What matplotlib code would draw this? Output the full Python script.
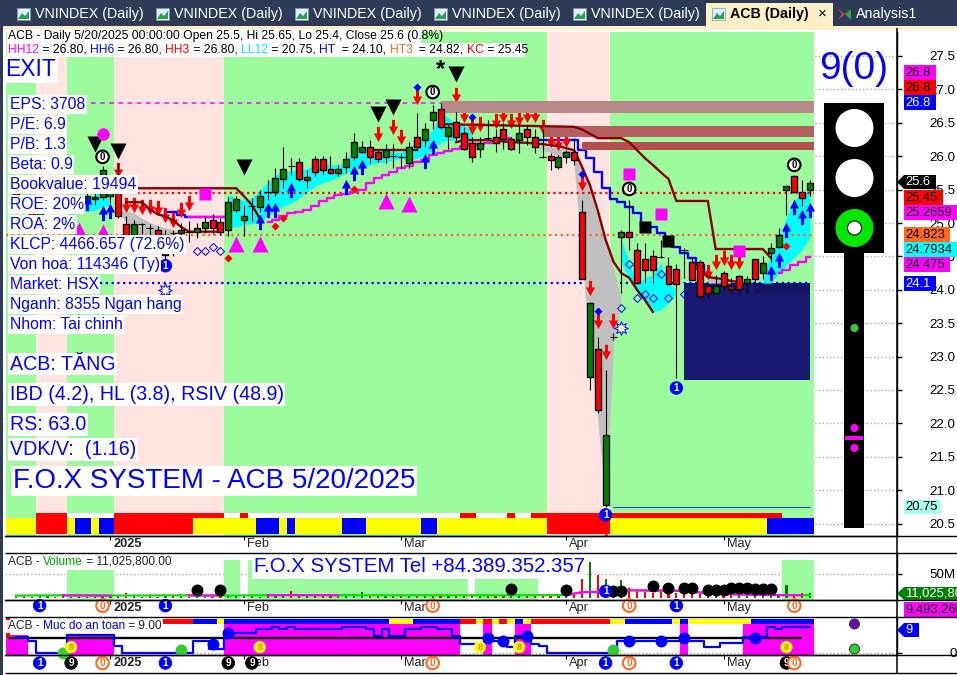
import numpy as np
import matplotlib
matplotlib.use("Agg")
import matplotlib.pyplot as plt
from matplotlib.patches import Rectangle, Circle, Polygon
from matplotlib.path import Path
from matplotlib.transforms import ScaledTranslation

plt.rcParams['font.family'] = ['Liberation Sans', 'DejaVu Sans']

# candles, bar 0 .. 101 (the first ones sit behind the labels, estimated)
open_ = [25.45, 25.35, 25.2, 25.1, 25.2, 25.35, 25.3, 25.25, 25.3, 25.3, 25.36, 25.39, 25.4, 25.6, 24.99, 24.81, 24.99, 24.93, 24.9, 24.52,
         24.85, 24.85, 24.86, 24.86, 24.93, 25.05, 25.01, 24.9, 25.2, 25.05, 25.25, 25.24, 25.46, 25.46, 25.66, 25.85, 25.91, 25.64, 25.96, 25.96,
         25.81, 25.75, 25.84, 25.99, 26.06, 26.14, 26.06, 25.99, 26.0, 25.99, 25.9, 26.29, 26.24, 26.54, 26.71, 26.3, 26.51, 26.35, 26.2, 26.11,
         26.27, 26.29, 26.41, 26.26, 26.24, 26.41, 26.29, 25.99, 26.0, 25.84, 25.99, 26.07, 25.16, 22.7, 23.12, 20.78, 23.3, 24.79, 24.87, 24.6,
         24.46, 24.5, 24.49, 24.36, 24.31, 24.6, 24.41, 24.41, 24.06, 23.95, 24.25, 24.06, 24.2, 24.1, 24.46, 24.25, 24.55, 24.64, 25.49, 25.7,
         25.46, 25.5]
close = [25.35, 25.2, 25.1, 25.2, 25.35, 25.3, 25.25, 25.3, 25.3, 25.4, 25.39, 25.8, 25.5, 25.1, 24.81, 24.99, 24.99, 24.93, 24.65, 24.82,
         24.85, 24.9, 24.86, 24.93, 25.01, 24.93, 24.86, 25.31, 25.36, 25.1, 25.25, 25.4, 25.46, 25.67, 25.81, 25.85, 25.66, 25.69, 25.76, 25.79,
         25.75, 25.81, 25.96, 26.21, 26.14, 25.99, 25.96, 26.1, 26.0, 25.99, 26.14, 26.14, 26.41, 26.66, 26.44, 26.44, 26.29, 26.11, 25.99, 26.2,
         26.27, 26.2, 26.26, 26.11, 26.35, 26.29, 26.14, 25.99, 25.94, 25.99, 26.06, 25.94, 24.16, 23.8, 22.2, 21.82, 23.3, 24.87, 24.79, 24.1,
         24.3, 24.3, 24.49, 24.09, 24.09, 24.6, 24.15, 23.9, 23.95, 24.06, 24.06, 24.01, 24.01, 24.16, 24.16, 24.4, 24.62, 24.82, 25.55, 25.46,
         25.38, 25.6]
high = [25.5, 25.4, 25.3, 25.3, 25.4, 25.4, 25.4, 25.35, 25.4, 25.5, 25.49, 25.85, 25.6, 25.88, 25.1, 25.05, 25.0, 24.98, 24.95, 24.9,
        24.9, 25.0, 25.03, 25.0, 25.1, 25.13, 25.08, 25.39, 25.4, 25.27, 25.37, 25.49, 25.64, 25.82, 26.14, 25.98, 25.98, 25.8, 26.0, 26.0,
        26.0, 25.87, 26.06, 26.35, 26.23, 26.24, 26.09, 26.19, 26.19, 26.05, 26.21, 26.65, 26.5, 26.76, 26.8, 26.47, 26.66, 26.44, 26.29, 26.29,
        26.54, 26.41, 26.5, 26.29, 26.45, 26.47, 26.41, 26.41, 26.05, 26.02, 26.09, 26.27, 25.34, 23.82, 23.3, 22.8, 23.35, 24.9, 25.34, 24.7,
        24.7, 24.6, 24.75, 24.49, 24.38, 24.63, 24.48, 24.45, 24.1, 24.22, 24.28, 24.18, 24.22, 24.2, 24.46, 24.5, 24.7, 24.92, 25.56, 25.72,
        25.65, 25.65]
low = [25.3, 25.15, 25.05, 25.05, 25.15, 25.25, 25.2, 25.2, 25.25, 25.25, 25.27, 25.35, 25.3, 25.08, 24.7, 24.75, 24.84, 24.78, 24.6, 24.45,
       24.5, 24.78, 24.71, 24.78, 24.85, 24.83, 24.82, 24.81, 25.17, 24.81, 25.03, 25.17, 25.34, 25.4, 25.52, 25.72, 25.63, 25.52, 25.7, 25.74,
       25.74, 25.71, 25.75, 25.95, 26.05, 25.9, 25.92, 25.9, 25.82, 25.82, 25.82, 26.1, 26.14, 26.4, 26.4, 26.11, 26.24, 26.1, 25.92, 25.99,
       26.25, 26.06, 26.11, 26.1, 26.05, 26.17, 26.05, 25.97, 25.79, 25.81, 25.9, 25.87, 24.16, 22.5, 22.15, 20.75, 23.25, 23.95, 24.6, 24.08,
       24.1, 24.1, 24.47, 24.08, 22.68, 24.18, 24.15, 23.88, 23.87, 23.95, 24.0, 23.95, 23.93, 23.95, 24.08, 24.16, 24.42, 24.63, 25.12, 25.45,
       25.25, 25.4]

volume = [3, 4, 3, 7, 4, 3, 4, 3, 4, 3, 3, 4,
          5, 4, 10, 4, 3, 4, 3, 4, 4, 5, 3, 3,
          4, 3, 4, 6, 4, 5, 4, 3, 4, 5, 9, 14,
          5, 4, 5, 5, 4, 6, 5, 8, 12, 5, 4, 5,
          4, 5, 6, 7, 5, 4, 5, 5, 4, 5, 6, 4,
          5, 4, 5, 6, 5, 4, 6, 5, 6, 7, 10, 9,
          42, 75, 47, 40, 14, 38, 20, 15, 12, 10, 12, 9,
          10, 8, 12, 8, 6, 4, 8, 6, 8, 7, 5, 8,
          9, 5, 27, 6, 11, 11.03]
vol_ma_idx = [0, 6, 12, 21, 27, 34, 45, 60, 70, 72, 75, 78, 84, 90, 96, 101]
vol_ma = [5, 5.5, 5, 5.5, 5, 6, 5.5, 5.5, 6, 12, 13, 16, 15, 8, 6, 6]

safety = [5.5, 5.5, 4.1, 0, 0, 0, 0, 6.2, 6.2, 6.2, 6.2, 6.2, 6.2, 2.4, 0, 0, 0, 0, 0, 0,
          0, 0, 0, 4.1, 4.1, 1.4, 1.4, 6.9, 6.9, 6.9, 6.9, 8.3, 8.3, 9, 8.3, 9, 8.3, 8.3, 8.3, 8.3,
          8.3, 8.3, 9, 9, 9, 8.3, 5.9, 8.3, 5.9, 5.9, 8.3, 8.3, 9, 9, 8.3, 8.3, 5.9, 3.1, 3.1, 3.1,
          5.2, 4.1, 4.1, 2.1, 5.9, 5.9, 3.1, 2.4, 0, 0, 0, 0, 0, 0, 0, 0, 0, 4.1, 4.1, 4.1,
          4.1, 4.1, 4.1, 4.1, 4.1, 4.1, 4.1, 4.1, 2.1, 2.1, 3.4, 3.4, 3.4, 5.5, 5.5, 5.5, 9, 8.1, 9, 9,
          9, 9]

# background bands, bar edges
band_edges = [-1.3, 2.5, 6.5, 12.5, 26.5, 67.5, 75.5, 101.5]
band_kinds = ['up', 'down', 'up', 'down', 'up', 'down', 'up']

strip_edges = [-1.3, 2.5, 6.5, 7.5, 9.5, 10.5, 12.5, 22.5, 30.5, 33.5, 34.5, 35.5, 41.5, 44.5, 51.5, 53.5, 67.5, 75.5, 95.5, 101.5]
strip_kinds = ['y', 'r', 'y', 'b', 'y', 'b', 'r', 'y', 'b', 'y', 'b', 'y', 'b', 'y', 'b', 'y', 'r', 'y', 'b']
strip_red_from = [2.5, 12.5, 28.5, 56.5, 62.5, 65.5]
strip_red_to = [6.5, 26.5, 29.5, 58.5, 63.5, 97.5]
strip_white_from = [6.5, 26.5, 29.5, 58.5, 63.5]
strip_white_to = [12.5, 28.5, 56.5, 62.5, 65.5]

# zones and fills, prices
zone_low = [26.65, 26.29, 26.09]
zone_high = [26.83, 26.45, 26.21]
zone_from = [54.0, 67.0, 72.0]
zone_colors = ['#B68888', '#B46060', '#B25050']

cyan_a_i = [7, 8, 9, 10, 11, 12]
cyan_a_top = [25.27, 25.34, 25.39, 25.42, 25.49, 25.57]
cyan_a_bot = [25.12, 25.15, 25.17, 25.19, 25.24, 25.27]
cyan_b_i = list(range(27, 59))
cyan_b_top = [25.42, 25.37, 25.34, 25.37, 25.49, 25.60, 25.72, 25.76, 25.79, 25.79, 25.81, 25.87, 25.91, 25.87, 25.87, 25.94,
              26.14, 26.14, 26.14, 26.11, 26.09, 26.06, 26.06, 26.14, 26.21, 26.29, 26.39, 26.65, 26.57, 26.47, 26.47, 26.35]
cyan_b_bot = [24.93, 24.94, 24.97, 24.99, 25.01, 25.10, 25.19, 25.25, 25.30, 25.37, 25.46, 25.55, 25.60, 25.64, 25.69, 25.75,
              25.79, 25.82, 25.87, 25.90, 25.91, 25.94, 25.97, 25.94, 25.97, 26.0, 26.09, 26.21, 26.24, 26.24, 26.20, 26.20]
cyan_c_i = [77, 78, 79, 80, 81, 82, 83, 84]
cyan_c_top = [24.75, 24.42, 24.07, 24.19, 24.22, 24.40, 24.10, 24.0]
cyan_c_bot = [24.42, 24.15, 23.95, 23.85, 23.67, 23.70, 23.80, 23.95]
cyan_d_i = [95, 96, 97, 98, 99, 100, 101]
cyan_d_top = [24.15, 24.55, 24.70, 25.09, 25.34, 25.45, 25.49]
cyan_d_bot = [24.10, 24.10, 24.25, 24.37, 24.48, 24.60, 24.78]

gray_a_i = [13, 14, 15, 16, 17, 18, 19, 20, 21]
gray_a_top = [25.19, 25.18, 25.15, 25.07, 25.01, 24.96, 24.93, 24.90, 24.85]
gray_a_bot = [25.16, 25.01, 24.85, 24.83, 24.83, 24.83, 24.83, 24.83, 24.85]
gray_b_i = [56, 57, 58, 59]
gray_b_top = [26.29, 26.27, 26.27, 26.26]
gray_b_bot = [26.24, 26.15, 26.12, 26.21]
gray_c_i = [66, 67, 68, 69, 70, 71]
gray_c_top = [26.17, 26.15, 26.14, 26.12, 26.11, 26.09]
gray_c_bot = [26.14, 26.09, 26.05, 26.0, 26.0, 25.94]
gray_d_i = [71, 72, 73, 74, 75, 76, 77]
gray_d_top = [26.09, 25.84, 25.57, 25.19, 24.75, 24.33, 23.85]
gray_d_bot = [25.87, 24.45, 23.10, 22.05, 20.78, 23.17, 23.85]
gray_e_i = [88, 89, 90, 91]
gray_e_top = [24.25, 24.20, 24.17, 24.15]
gray_e_bot = [24.10, 24.10, 24.10, 24.10]

# lines
magenta_a_i = list(range(32, 64))
magenta_a = [25.01, 25.04, 25.10, 25.15, 25.16, 25.19, 25.25, 25.33, 25.37, 25.42, 25.43, 25.46, 25.49, 25.60, 25.67, 25.72,
             25.76, 25.82, 25.85, 25.91, 25.94, 26.02, 26.05, 26.08, 26.11, 26.15, 26.18, 26.18, 26.20, 26.21, 26.24, 26.27]
magenta_b_i = [97, 98, 99, 100, 101]
magenta_b = [24.25, 24.30, 24.37, 24.42, 24.49]
magenta_c_i = [22, 23, 24, 25, 26, 27]
magenta_c = [25.09, 25.09, 25.09, 25.09, 25.09, 25.09]

brown_a_i = [15, 28, 29, 30, 31]
brown_a = [25.52, 25.52, 25.40, 25.27, 25.07]
brown_b_i = [14, 16, 17, 18, 19, 20, 21, 22, 26]
brown_b = [25.31, 25.31, 25.21, 25.13, 25.10, 25.04, 24.94, 24.87, 24.87]
brown_c_i = [45, 51]
brown_c = [26.09, 26.09]
brown_d_i = [54, 71, 72, 74, 77, 78, 79, 80, 81, 82, 83, 84, 88, 89, 95, 96]
brown_d = [26.48, 26.44, 26.4, 26.27, 26.27, 26.21, 26.09, 25.97, 25.87, 25.76, 25.66, 25.33, 25.33, 24.61, 24.61, 24.48]
brown_e_i = [56, 57, 60, 63, 65, 67, 69, 71, 72, 73, 74, 75, 76, 77, 78, 79, 80, 81]
brown_e = [26.21, 26.24, 26.24, 26.21, 26.20, 26.18, 26.15, 26.09, 25.84, 25.57, 25.19, 24.75, 24.42, 24.25, 24.18, 24.0, 23.85, 23.67]
brown_f_i = [86, 87, 88, 90, 91, 92]
brown_f = [24.34, 24.30, 24.19, 24.16, 24.13, 24.12]

blue_a_i = list(range(19, 28))
blue_a = [25.16, 25.16, 25.12, 25.09, 25.09, 25.09, 25.09, 25.09, 25.09]
blue_b_i = list(range(66, 89))
blue_b = [26.24, 26.24, 26.24, 26.24, 26.24, 26.24, 26.09, 25.97, 25.76, 25.52, 25.36, 25.31, 25.24, 25.15, 24.94, 24.94,
          24.85, 24.75, 24.64, 24.55, 24.48, 24.37, 24.25]

# signals, bar and price
red_arrow_i = [13, 14, 15, 16, 17, 18, 19, 20, 21, 22, 46, 48, 49, 51, 56, 57, 58, 59, 61, 62, 63, 64, 65, 66, 67, 68, 69, 70, 72, 73, 74, 75, 76, 88, 89, 90, 91, 92]
red_arrow_p = [25.79, 25.27, 25.27, 25.24, 25.24, 25.22, 25.12, 25.04, 25.19, 25.30, 26.33, 26.44, 26.29, 26.89, 26.92, 26.62, 26.44, 26.48, 26.53, 26.62, 26.53, 26.57, 26.62, 26.62, 26.44, 26.24, 26.20, 26.24, 25.60, 24.03, 23.53, 23.07, 23.53, 24.27, 24.42, 24.48, 24.42, 24.42]
blue_arrow_i = [9, 11, 12, 31, 32, 33, 35, 42, 43, 44, 52, 53, 96, 97, 98, 99, 100, 101]
blue_arrow_p = [25.30, 25.15, 25.18, 25.01, 25.19, 25.19, 25.49, 25.54, 25.75, 25.84, 25.93, 26.14, 24.25, 24.45, 24.90, 25.24, 25.09, 25.19]
black_tri_i = [10, 13, 29, 46, 48, 56]
black_tri_p = [26.18, 26.08, 25.84, 26.63, 26.74, 27.23]
mag_tri_i = [8, 11, 28, 31, 47, 50]
mag_tri_p = [24.90, 24.87, 24.69, 24.69, 25.33, 25.28]
mag_sq_i = [24, 78, 82, 92]
mag_sq_p = [25.43, 25.73, 25.13, 24.58]
black_sq_i = [80, 83]
black_sq_p = [24.94, 24.73]
zero_i = [11, 53, 78, 99]
zero_p = [25.99, 26.96, 25.51, 25.87]
one_i = [19, 84, 75]
one_p = [24.36, 22.53, 20.63]
blue_dia_i = [51, 58, 72, 74]
blue_dia_p = [27.04, 26.59, 25.73, 23.68]
red_dia_i = [27, 33, 34, 43, 98, 75]
red_dia_p = [24.48, 24.96, 25.07, 25.51, 24.66, 20.30]
open_dia_i = [23, 24, 25, 26, 78, 82, 77, 79, 80, 81, 83, 85]
open_dia_p = [24.58, 24.58, 24.64, 24.58, 24.39, 24.24, 23.73, 23.88, 23.94, 23.88, 23.88, 23.94]
flake_i = [19, 77]
flake_p = [24.0, 23.43]

vol_dot_i = [23, 26, 63, 70, 76, 77, 81, 83, 85, 86, 88, 89, 90, 91, 92, 93, 94, 95, 96]
vol_dot_v = [17, 17, 18, 17, 14, 14, 25, 20, 20, 20, 17, 17, 17, 20, 20, 20, 19, 19, 19]
vol_row_i = [3, 11, 19, 53, 78, 84, 99]
vol_row_d = ['1', '0', '1', '0', '0', '1', '0']
safety_row_i = [3, 7, 11, 19, 27, 30, 53, 75, 78, 84, 98, 99]
safety_row_d = ['1', '9', '0', '1', '9', '9', '0', '1', '0', '1', '9', '0']
safety_blue_i = [25, 27, 60, 62, 65, 78, 82, 85, 94]
safety_blue_v = [3.1, 6.9, 5.2, 4.1, 5.9, 4.1, 4.1, 5.2, 5.2]
safety_green_i = [6, 21, 76]
safety_green_v = [0, 1, 1]
safety_eight_i = [7, 31, 59, 64, 98]

tick_bars = [12, 29, 49, 70, 90]
tick_names = ['2025', 'Feb', 'Mar', 'Apr', 'May']
price_ticks = [27.5, 27.0, 26.5, 26.0, 25.5, 25.0, 24.5, 24.0, 23.5, 23.0, 22.5, 22.0, 21.5, 21.0, 20.5]

W, H = 957, 675
fig = plt.figure(figsize=(W / 100, H / 100), dpi=100, facecolor='white')
COLORS = {'up': '#9CFB9C', 'down': '#FFE4E1', 'y': '#FFFF00', 'r': '#FF0000', 'b': '#0000FF'}
XL = (-1.41, 112.07)


def panel(top, bottom):
    a = fig.add_axes([5 / W, 1 - bottom / H, 892 / W, (bottom - top) / H])
    a.set_xlim(*XL)
    for s in ['top', 'left']:
        a.spines[s].set_visible(False)
    a.spines['right'].set_linewidth(1)
    a.spines['bottom'].set_linewidth(1)
    a.yaxis.tick_right()
    a.set_xticks(tick_bars)
    a.set_xticklabels(tick_names, ha='left', fontsize=9.2, color='#222222')
    a.get_xticklabels()[0].set_fontweight('bold')
    a.tick_params(axis='x', length=3, width=0.8, pad=-1.5)
    for lb in a.get_xticklabels():
        lb.set_transform(lb.get_transform() + ScaledTranslation(3 / 100, 0, fig.dpi_scale_trans))
    a.tick_params(axis='y', length=3.6, width=1, labelsize=9.6, pad=19.5)
    a.grid(axis='y', color='#AAAAAA', linestyle=':', linewidth=1)
    a.set_axisbelow(True)
    return a


def arrow(sign):
    v = [(-1.5, 7.5), (1.5, 7.5), (1.5, 1), (4.5, 1), (0, -7.5), (-4.5, 1), (-1.5, 1), (-1.5, 7.5)]
    return Path([(x, sign * y) for x, y in v], closed=True)


def disc(a, x, y, txt, fc, tc, ec, lw=0.6, size=7.2, trans=None):
    a.text(x, y, txt, ha='center', va='center', fontsize=size, fontweight='bold', color=tc, zorder=12,
           transform=trans if trans is not None else a.transData, clip_on=False,
           bbox=dict(boxstyle='circle,pad=0.13', fc=fc, ec=ec, lw=lw))


def digit_style(d):
    if d == '1':
        return '#0000FF', 'white', '#0000FF', 0.6
    if d == '9':
        return 'black', 'white', 'black', 0.6
    return 'white', '#FF6A20', '#FF6A20', 1.5


# ---- price panel
ax = panel(32, 536)
ax.set_ylim(27.5 - (536 - 56) / 66.8, 27.5 + (56 - 32) / 66.8)
ax.set_yticks(price_ticks)
ax.set_yticklabels(['%.1f' % t for t in price_ticks])

for j in range(len(band_kinds)):
    ax.axvspan(band_edges[j], band_edges[j + 1], color=COLORS[band_kinds[j]], lw=0, zorder=1)
for j in range(len(strip_kinds)):
    ax.axvspan(strip_edges[j], strip_edges[j + 1], ymin=2 / 504, ymax=18 / 504, color=COLORS[strip_kinds[j]], lw=0, zorder=1.5)
for a0, a1 in zip(strip_red_from, strip_red_to):
    ax.axvspan(a0, a1, ymin=18 / 504, ymax=23 / 504, color='#FF0000', lw=0, zorder=1.5)
for a0, a1 in zip(strip_white_from, strip_white_to):
    ax.axvspan(a0, a1, ymin=18 / 504, ymax=23 / 504, color='white', lw=0, zorder=1.5)

ax.add_patch(Rectangle((85, 22.65), 16, 24.1 - 22.65, fc='#191970', ec='none', zorder=2))
ax.add_patch(Rectangle((94, 23.93), 7, 24.1 - 23.93, fc='#141460', ec='none', zorder=2.1))

for xs, t, b in [(cyan_a_i, cyan_a_top, cyan_a_bot), (cyan_b_i, cyan_b_top, cyan_b_bot),
                 (cyan_c_i, cyan_c_top, cyan_c_bot), (cyan_d_i, cyan_d_top, cyan_d_bot)]:
    ax.fill_between(xs, b, t, color='#00FFFF', lw=0, zorder=2.5)
for xs, t, b in [(gray_a_i, gray_a_top, gray_a_bot), (gray_b_i, gray_b_top, gray_b_bot),
                 (gray_c_i, gray_c_top, gray_c_bot), (gray_d_i, gray_d_top, gray_d_bot),
                 (gray_e_i, gray_e_top, gray_e_bot)]:
    ax.fill_between(xs, b, t, color='#C0C0C0', lw=0, zorder=2.5)

ax.hlines(25.45, 0, 101.5, colors='#FF0000', lw=1.6, linestyles=(0, (1, 1.6)), zorder=3)
ax.hlines(24.823, -1.3, 101.5, colors='#FF6A20', lw=1.6, linestyles=(0, (1, 1.6)), zorder=3)
ax.hlines(24.1, 10.7, 101, colors='#0000FF', lw=1.6, linestyles=(0, (1, 1.6)), zorder=2.2)
ax.hlines(26.8, 9.5, 54, colors='#FF00FF', lw=1.1, linestyles=(0, (3, 3)), zorder=3)
ax.hlines(20.75, 76, 101, colors='#2040C0', lw=0.8, zorder=3)

for xs, ys in [(blue_a_i, blue_a), (blue_b_i, blue_b)]:
    ax.plot(xs, ys, color='#0000FF', lw=1.7, drawstyle='steps-mid', zorder=3.2)
for xs, ys in [(magenta_a_i, magenta_a), (magenta_b_i, magenta_b), (magenta_c_i, magenta_c)]:
    ax.plot(xs, ys, color='#FF00FF', lw=1.7, drawstyle='steps-mid', zorder=3.3)

ax.plot(red_arrow_i, red_arrow_p, ls='', marker=arrow(1), ms=11, mfc='#FF0000', mec='none', zorder=3.5)

for z0, z1, zf, zc in zip(zone_low, zone_high, zone_from, zone_colors):
    ax.add_patch(Rectangle((zf, z0), 101.5 - zf, z1 - z0, fc=zc, ec='none', zorder=4))

for xs, ys in [(brown_a_i, brown_a), (brown_b_i, brown_b), (brown_c_i, brown_c), (brown_d_i, brown_d),
               (brown_e_i, brown_e), (brown_f_i, brown_f)]:
    ax.plot(xs, ys, color='#8B0000', lw=1.7, zorder=4.5)

bars_i = np.arange(len(close))
o = np.array(open_)
c = np.array(close)
ax.vlines(bars_i, low, high, colors='black', lw=0.8, zorder=5)
doji = o == c
ax.hlines(c[doji], bars_i[doji] - 0.45, bars_i[doji] + 0.45, colors='black', lw=0.8, zorder=5.1)
cols = ['#008000' if cc > oo else '#FF0000' for oo, cc in zip(o, c)]
ax.bar(bars_i[~doji], np.abs(c - o)[~doji], bottom=np.minimum(o, c)[~doji], width=0.76,
       color=np.array(cols)[~doji], edgecolor='black', linewidth=0.95, zorder=5.2)

ax.plot(blue_arrow_i, blue_arrow_p, ls='', marker=arrow(-1), ms=11, mfc='#0000FF', mec='none', zorder=6)
ax.plot(black_tri_i, black_tri_p, ls='', marker='v', ms=11, mfc='black', mec='none', zorder=6)
ax.plot(mag_tri_i, mag_tri_p, ls='', marker='^', ms=12, mfc='#FF00FF', mec='none', zorder=6)
ax.plot(mag_sq_i, mag_sq_p, ls='', marker='s', ms=8.8, mfc='#FF00FF', mec='none', zorder=6)
ax.plot(black_sq_i, black_sq_p, ls='', marker='s', ms=8.8, mfc='black', mec='none', zorder=6)
ax.plot(blue_dia_i, blue_dia_p, ls='', marker='D', ms=4, mfc='#0000FF', mec='none', zorder=6)
ax.plot(red_dia_i, red_dia_p, ls='', marker='D', ms=4, mfc='#FF0000', mec='none', zorder=6)
ax.plot(open_dia_i, open_dia_p, ls='', marker='D', ms=3.6, mfc='none', mec='#0000FF', mew=0.7, zorder=6)
ax.plot(flake_i, flake_p, ls='', marker=(8, 1, 0), ms=10, mfc='white', mec='#0000FF', mew=0.7, zorder=6)
ax.plot([11], [26.33], ls='', marker='o', ms=9, mfc='#FF00FF', mec='none', zorder=6)
for xi, yi in zip(zero_i, zero_p):
    disc(ax, xi, yi, '0', 'white', 'black', 'black', lw=1.5, size=7)
for xi, yi in zip(one_i, one_p):
    disc(ax, xi, yi, '1', '#0000FF', 'white', '#0000FF', size=7)
ax.text(54, 27.3, '*', fontsize=17, fontweight='bold', ha='center', va='center', color='black', zorder=6)

# ---- volume panel
vx = panel(553, 600)
vx.set_ylim(-4.2, 93.75)
vx.set_yticks([50])
vx.set_yticklabels(['50M'])
for a0, a1, top in [(6.5, 12.5, 58), (26.5, 28.5, 79), (29.5, 57.5, 79), (58.4, 66.4, 79), (97.5, 101.5, 79)]:
    vx.add_patch(Rectangle((a0, -4.2), a1 - a0, top + 4.2, fc=COLORS['up'], ec='none', zorder=1))
vx.bar(bars_i, volume, width=0.28, color=cols, zorder=2)
vx.plot(vol_ma_idx, vol_ma, color='#00E000', lw=1.6, zorder=2.5)
vm = np.interp(bars_i, vol_ma_idx, vol_ma)
for a0, a1 in [(6, 13), (22, 27), (32, 42), (70, 101)]:
    vx.plot(bars_i[a0:a1], vm[a0:a1], color='#FF00FF', lw=1.6, zorder=2.6)
vx.plot(vol_dot_i, vol_dot_v, ls='', marker='o', ms=8.6, mfc='black', mec='none', zorder=3)
disc(vx, 75, 14, '1', '#0000FF', 'white', '#0000FF', size=7)
tv = vx.get_xaxis_transform()
for xi, d in zip(vol_row_i, vol_row_d):
    fc, tc, ec, lw = digit_style(d)
    disc(vx, xi, -0.12, d, fc, tc, ec, lw=lw, trans=tv)

# ---- safety panel
sx = panel(617, 655)
sx.set_ylim(-0.7, 12.4)
sx.set_yticks([0])
sx.set_yticklabels(['0'])
sx.tick_params(axis='y', pad=34)
for a0, a1, top in [(-1.3, 1.5, 6.2), (6.6, 12.5, 6.5), (26.5, 56.5, 10.3), (59.4, 60.5, 10.3), (63.5, 65.5, 10.3), (84.5, 85.5, 10.3), (92.5, 101.5, 10.3)]:
    sx.add_patch(Rectangle((a0, -0.7), a1 - a0, top + 0.7, fc='#FF00FF', ec='none', zorder=1))
for a0, a1, col in [(18.7, 22.5, 'r'), (22.5, 25.5, 'b'), (25.5, 26.5, 'y'), (26.5, 47.5, 'b'), (47.5, 50.5, 'y'),
                    (50.5, 56.5, 'b'), (56.5, 58.5, 'r'), (58.5, 59.4, 'y'), (59.4, 60.5, 'r'), (60.5, 61.5, 'y'),
                    (61.5, 62.5, 'r'), (62.5, 63.5, 'y'), (63.5, 64.5, 'b'), (64.5, 65.5, 'y'), (65.5, 75.5, 'r'),
                    (75.5, 77.5, 'y'), (77.5, 83.5, 'b'), (83.5, 84.5, 'y'), (84.5, 85.5, 'b'), (85.5, 93.5, 'y'),
                    (93.5, 101.5, 'b')]:
    sx.axvspan(a0, a1, ymin=31 / 38, ymax=36 / 38, ec='none', fc=COLORS[col], zorder=1.5)
sx.axvspan(-1.3, -0.8, ymin=0.45, ymax=1, color='#FF0000', lw=0, zorder=1.6)
sx.hlines(5.2, -1, 100, colors='black', lw=1.7, zorder=2)
sx.plot(bars_i, safety, color='#0000FF', lw=1.6, drawstyle='steps-mid', zorder=3)
sx.plot(safety_blue_i, safety_blue_v, ls='', marker='o', ms=8.6, mfc='#0000FF', mec='none', zorder=4)
sx.plot(safety_green_i, safety_green_v, ls='', marker='o', ms=8.6, mfc='#33CC33', mec='none', zorder=4, clip_on=False)
for xi in safety_eight_i:
    disc(sx, xi, 2, '8', '#FFFF00', '#E08000', '#FFFF00', size=6.6)
ts = sx.get_xaxis_transform()
for xi, d in zip(safety_row_i, safety_row_d):
    fc, tc, ec, lw = digit_style(d)
    disc(sx, xi, -0.21, d, fc, tc, ec, lw=lw, trans=ts)

# ---- overlay in pixels, everything around the chart
ov = fig.add_axes([0, 0, 1, 1], zorder=20)
ov.set_xlim(0, W)
ov.set_ylim(H, 0)
ov.axis('off')
ov.patch.set_alpha(0)
rend = fig.canvas.get_renderer()
NAVY = '#2D3B57'

ov.add_patch(Rectangle((0, 0), W, 26, fc=NAVY, ec='none'))
ov.add_patch(Rectangle((0, 26), W, 4, fc='#FBEFCF', ec='none'))
ov.add_patch(Rectangle((0, 0), 3, H, fc=NAVY, ec='none'))
for tx in [35, 174, 313, 452, 591]:
    ov.add_patch(Rectangle((tx - 18, 8), 13, 12, fc='#DDEEFF', ec='#8899AA', lw=0.5))
    ov.add_patch(Polygon([(tx - 17, 19), (tx - 13, 13), (tx - 10, 16), (tx - 6, 11), (tx - 6, 19)], fc='#30A050', ec='none'))
    ov.text(tx, 14, 'VNINDEX (Daily)', fontsize=10.3, color='white', va='center', ha='left')
ov.add_patch(Rectangle((706, 3), 127, 25, fc='#FFF0C8', ec='none'))
ov.add_patch(Rectangle((712, 8), 13, 12, fc='#DDEEFF', ec='#8899AA', lw=0.5))
ov.add_patch(Polygon([(713, 19), (717, 13), (720, 16), (724, 11), (724, 19)], fc='#30A050', ec='none'))
ov.text(730, 14, 'ACB (Daily)', fontsize=10.3, fontweight='bold', color='black', va='center', ha='left')
ov.text(822, 14, '\u00d7', fontsize=11, color='black', va='center', ha='center')
ov.add_patch(Polygon([(838, 9), (845, 14), (838, 20), (842, 14)], fc='#E04040', ec='none'))
ov.add_patch(Polygon([(845, 14), (851, 9), (851, 20)], fc='#40A040', ec='none'))
ov.text(856, 14, 'Analysis1', fontsize=10.3, color='white', va='center', ha='left')


def parts(x, y, items, size):
    for txt, col in items:
        t = ov.text(x, y, txt, fontsize=size, color=col, va='center', ha='left')
        x += t.get_window_extent(rend).width


ov.add_patch(Rectangle((7, 29), 414, 14, fc='white', ec='none'))
ov.add_patch(Rectangle((7, 43), 518, 14, fc='white', ec='none'))
ov.text(8, 35.5, 'ACB - Daily 5/20/2025 00:00:00 Open 25.5, Hi 25.65, Lo 25.4, Close 25.6 (0.8%)', fontsize=8.7, color='black', va='center')
parts(8, 50, [('HH12', '#FF00FF'), (' = 26.80, ', 'black'), ('HH6', '#0000FF'), (' = 26.80, ', 'black'),
              ('HH3', '#FF0000'), (' = 26.80, ', 'black'), ('LL12', '#00E5FF'), (' = 20.75, ', 'black'),
              ('HT', '#0000FF'), ('  = 24.10, ', 'black'), ('HT3', '#FF6A20'), ('  = 24.82, ', 'black'),
              ('KC', '#FF0000'), (' = 25.45', 'black')], 8.7)

box = dict(fc='white', ec='none', pad=1.4)
ov.text(5, 70, 'EXIT', fontsize=16.5, color='#0000FF', va='center', bbox=box)
info_txt = ['EPS: 3708', 'P/E: 6.9', 'P/B: 1.3', 'Beta: 0.9', 'Bookvalue: 19494', 'ROE: 20%', 'ROA: 2%',
            'KLCP: 4466.657 (72.6%)', 'Von hoa: 114346 (Ty)', 'Market: HSX', 'Nganh: 8355 Ngan hang', 'Nhom: Tai chinh']
for k, s in enumerate(info_txt):
    ov.text(9.5, 104.5 + 20 * k, s, fontsize=11.3, color='#0000FF', va='center', bbox=box)
for yy, s in [(364, 'ACB: T\u0102NG'), (394.5, 'IBD (4.2), HL (3.8), RSIV (48.9)'), (424.5, 'RS: 63.0'), (449.5, 'VDK/V:  (1.16)')]:
    ov.text(9.5, yy, s, fontsize=14.1, color='#0000FF', va='center', bbox=box)
ov.text(13, 481, 'F.O.X SYSTEM - ACB 5/20/2025', fontsize=20, color='#0000FF', va='center', bbox=box)
ov.text(254, 567, 'F.O.X SYSTEM Tel +84.389.352.357', fontsize=14.7, color='#0000FF', va='center', bbox=box)
ov.text(854, 69, '9(0)', fontsize=28, color='#0000FF', va='center', ha='center')

parts(8, 562, [('ACB - ', '#222222'), ('Volume', '#00A000'), (' = 11,025,800.00', '#222222')], 8.6)
ov.add_patch(Rectangle((6, 620), 157, 13, fc='white', ec='none', alpha=0.9))
parts(8, 626, [('ACB - ', '#222222'), ('Muc do an toan', '#0000FF'), (' = 9.00', '#222222')], 8.6)

for yy in [536, 553, 600, 617, 655, 673]:
    ov.plot([5, W], [yy, yy], color='black', lw=1.0, solid_capstyle='butt')
ov.plot([897, 897], [28, 673], color='black', lw=1.1, solid_capstyle='butt')

# traffic light
ov.add_patch(Rectangle((824, 103), 60, 150, fc='black', ec='none'))
ov.add_patch(Rectangle((844, 253), 20, 275, fc='black', ec='none'))
ov.add_patch(Circle((854.5, 128), 19, fc='white', ec='none'))
ov.add_patch(Circle((854.5, 178), 19, fc='white', ec='none'))
ov.add_patch(Circle((854.5, 228), 19, fc='#00E600', ec='none'))
ov.add_patch(Circle((854.5, 228), 7, fc='white', ec='black', lw=0.8))
ov.add_patch(Circle((854.5, 328), 4, fc='#33CC33', ec='none'))
ov.add_patch(Circle((854.5, 428), 4, fc='#FF00FF', ec='none'))
ov.add_patch(Circle((854.5, 448), 4, fc='#FF00FF', ec='none'))
ov.add_patch(Rectangle((845, 436), 18, 4, fc='#FF00FF', ec='none'))
ov.add_patch(Circle((854.5, 624), 5, fc='#6A0DAD', ec='#333333', lw=0.7))
ov.add_patch(Circle((854.5, 649), 5, fc='#33CC33', ec='#333333', lw=0.7))


def tag(x0, x1, y0, y1, txt, fc, tc='black', point=False):
    if point:
        ov.add_patch(Polygon([(897, (y0 + y1) / 2), (x0, y0), (x1, y0), (x1, y1), (x0, y1)], fc=fc, ec='none', clip_on=True))
    else:
        ov.add_patch(Rectangle((x0, y0), x1 - x0, y1 - y0, fc=fc, ec='none'))
    ov.text(x0 + 1.5, (y0 + y1) / 2 + 0.3, txt, fontsize=9.4, color=tc, va='center', ha='left', clip_on=True)


tag(904, 936, 65, 80, '26.8', '#FF00FF')
tag(904, 936, 80, 95, '26.8', '#FF0000')
tag(904, 936, 95, 110, '26.8', '#0000FF', 'white')
tag(904, 936, 175, 189, '25.6', 'black', 'white', point=True)
tag(904, 943, 190, 205, '25.45', '#FF0000')
tag(904, 957, 205, 220, '25.2659', '#FF00FF')
tag(904, 950, 227, 242, '24.823', '#FF6A20')
tag(904, 957, 242, 257, '24.7934', '#00FFFF')
tag(904, 950, 257, 272, '24.475', '#FF00FF')
tag(904, 936, 276, 291, '24.1', '#0000FF', 'white')
tag(904, 941, 500, 514, '20.75', '#AAFFEE')
tag(904, 957, 587, 600, '11,025,800', '#008000', 'white', point=True)
tag(904, 957, 602, 617, '9,493,260', '#FF00FF')
tag(904, 919, 623, 637, '9', '#0000FF', 'white', point=True)

fig.savefig('out.png', dpi=100)
